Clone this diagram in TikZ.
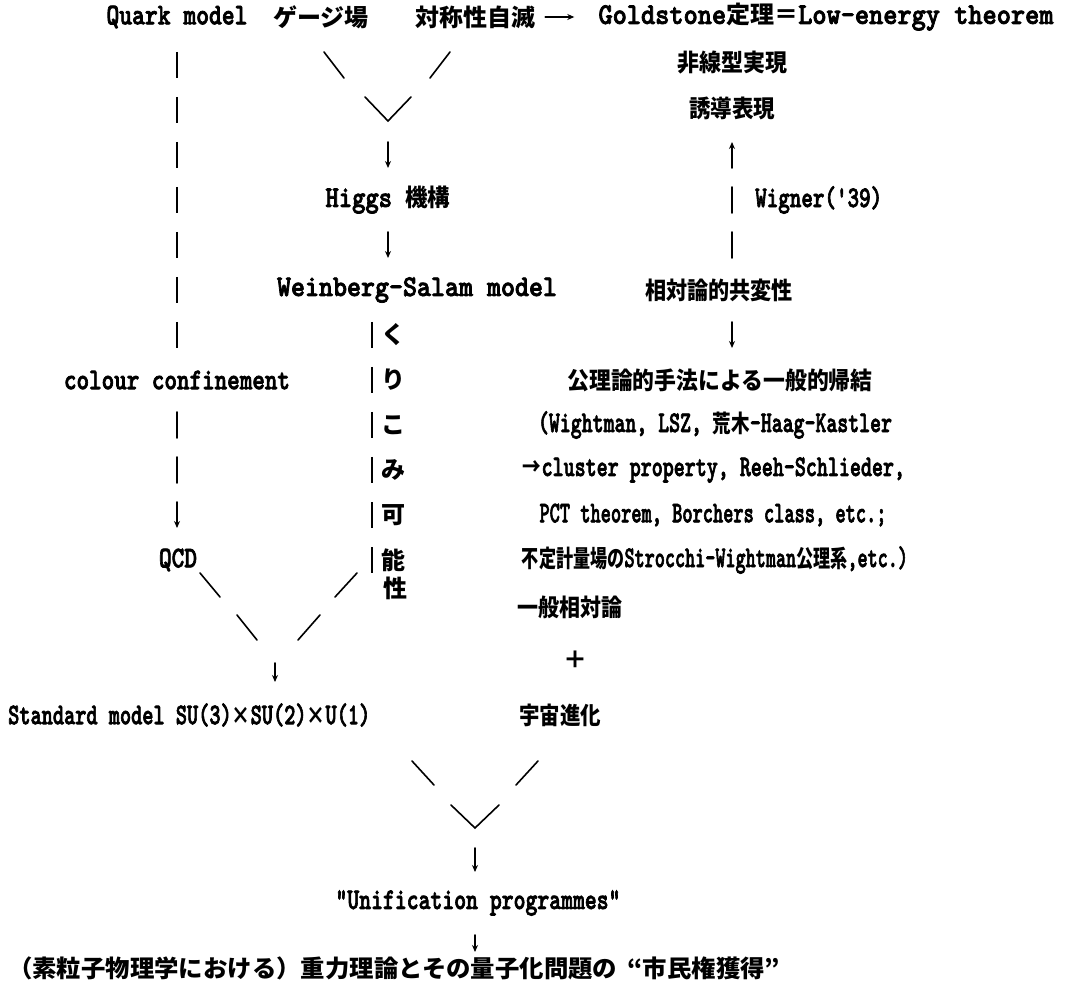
\documentclass[tikz,border=0pt]{standalone}
\usepackage{fontspec}
\usepackage{graphicx}
\newfontfamily\lat{lmmonolt10-bold.otf}[FakeStretch=0.9,FakeBold=2.5]
\newfontfamily\jpf{Noto Sans CJK JP}
\usetikzlibrary{arrows.meta,calc}
\newcommand{\jp}[1]{{\jpf\bfseries\fontsize{24}{28}\selectfont #1}}
\newcommand{\fw}[2]{\resizebox{#1pt}{\height}{#2}}
\begin{document}
\begin{tikzpicture}[x=1pt,y=-1pt,
  every node/.style={inner sep=0pt, font=\fontsize{30}{32}\selectfont\lat},
  ln/.style={line width=1.6pt, line cap=round},
  arr/.style={ln, -{Stealth[length=7pt,width=6pt]}},
  bars/.style={ln, line cap=butt, dash pattern=on 26pt off 19pt}]
\useasboundingbox (0,0) rectangle (1080,984);

% ---- nodes
\node (quark)   at (177,17)  {\fw{141}{Quark model}};
\node (gauge)   at (321,17)  {\jp{ゲージ場}};
\node (sym)     at (475,17)  {\jp{対称性自滅}};
\node (gold)    at (826,17)  {\fw{455}{Goldstone\jp{定理＝}Low-energy theorem}};
\node (nonlin)  at (732,63)  {\fw{110}{\jp{非線型実現}}};
\node (induced) at (732,108) {\fw{86}{\jp{誘導表現}}};
\node (higgs)   at (388,200) {\fw{125}{Higgs \jp{機構}}};
\node[anchor=west] (wigner) at (755,200) {\fw{127}{Wigner('39)}};
\node (ws)      at (417,290) {\fw{280}{Weinberg-Salam model}};
\node (relcov)  at (719,290) {\fw{148}{\jp{相対論的共変性}}};
\node (colour)  at (177,380) {\fw{226}{colour confinement}};
\node (axiom)   at (720,380) {\fw{305}{\jp{公理論的手法による一般的帰結}}};
\node (p1)      at (715,425) {\fw{354}{(Wightman, LSZ, \jp{荒木}-Haag-Kastler}};
\node (p2)      at (714,470) {\fw{382}{\jp{→}cluster property, Reeh-Schlieder,}};
\node (p3)      at (713,515) {\fw{347}{PCT theorem, Borchers class, etc.;}};
\node (p4)      at (715,560) {\fw{386}{\jp{不定計量場の}Strocchi-Wightman\jp{公理系},etc.)}};
\node (qcd)     at (178,560) {\fw{38}{QCD}};
\node (k1) at (393,335) {\jp{く}};
\node (k2) at (393,380) {\jp{り}};
\node (k3) at (393,425) {\jp{こ}};
\node (k4) at (393,470) {\jp{み}};
\node (k5) at (393,515) {\jp{可}};
\node (k6) at (393,560) {\jp{能}};
\node (k7) at (395,588) {\jp{性}};
\node (ippan)   at (570,607) {\fw{105}{\jp{一般相対論}}};
\node (plus)    at (575,660) {\jp{＋}};
\node[anchor=west] (std) at (8,715) {\fw{362}{Standard model SU(3)\jp{×}SU(2)\jp{×}U(1)}};
\node (uchu)    at (560,715) {\fw{82}{\jp{宇宙進化}}};
\node (unif)    at (478,903) {\fw{285}{"Unification programmes"}};
\node[anchor=west] (final) at (8,968) {\fw{772}{\jp{（素粒子物理学における）重力理論とその量子化問題の\hspace{10pt}“市民権獲得”}}};

% ---- left column: Quark model -> colour confinement -> QCD
\draw[bars, shorten <=35pt, shorten >=32pt] (quark.center) -- (colour.center);
\draw[bars, arr, shorten <=32pt, shorten >=32pt] (colour.center) -- (qcd.center -| colour.center);

% ---- gauge field + spontaneous breaking -> Higgs mechanism
\coordinate (v1) at (388,121);
\draw[ln] ($(v1)+(-64,-69)$) -- ($(v1)+(-44,-43)$)
          ($(v1)+(-23,-24)$) -- (v1) -- ($(v1)+(23,-24)$)
          ($(v1)+(42,-43)$) -- ($(v1)+(62,-69)$);
\draw[arr, shorten <=21pt, shorten >=32pt] (v1) -- (v1 |- higgs.center);
\draw[arr, shorten <=32pt, shorten >=32pt] (higgs.center) -- (higgs.center |- ws.center);

% ---- spontaneous breaking -> Goldstone
\draw[arr, shorten <=10pt, shorten >=24pt] (sym.east) -- (gold.west);

% ---- renormalisability branch from Weinberg-Salam
\coordinate (kt) at (372,322);
\coordinate (kb) at (372,573);
\draw[bars] (kt) -- (kb);
\coordinate (v2l) at (257,640);
\coordinate (v2r) at (298,640);
\coordinate (v2) at (275,640);
\draw[ln] ($(v2r)+(59,-67)$) -- ($(v2r)+(37,-43)$)
          ($(v2r)+(22,-25)$) -- (v2r);
\draw[ln] ($(v2l)+(-57,-67)$) -- ($(v2l)+(-37,-43)$)
          ($(v2l)+(-20,-25)$) -- (v2l);
\draw[arr, shorten <=23pt, shorten >=33pt] (v2) -- (v2 |- std.center);

% ---- right column
\draw[bars, arr, shorten <=32pt, shorten >=34pt] (induced.center |- relcov.center) -- (induced.center);
\draw[arr, shorten <=32pt, shorten >=32pt] (induced.center |- relcov.center) -- (induced.center |- axiom.center);

% ---- Standard model + cosmology -> unification
\coordinate (v3) at (475,828);
\draw[ln] ($(v3)+(-63,-67)$) -- ($(v3)+(-41,-43)$)
          ($(v3)+(63,-67)$) -- ($(v3)+(41,-43)$)
          ($(v3)+(-24,-23)$) -- (v3) -- ($(v3)+(24,-23)$);
\draw[arr, shorten <=20pt, shorten >=31pt] (v3) -- (v3 |- unif.center);
\draw[arr, shorten <=32pt, shorten >=16pt] (v3 |- unif.center) -- (v3 |- final.center);
\end{tikzpicture}
\end{document}
